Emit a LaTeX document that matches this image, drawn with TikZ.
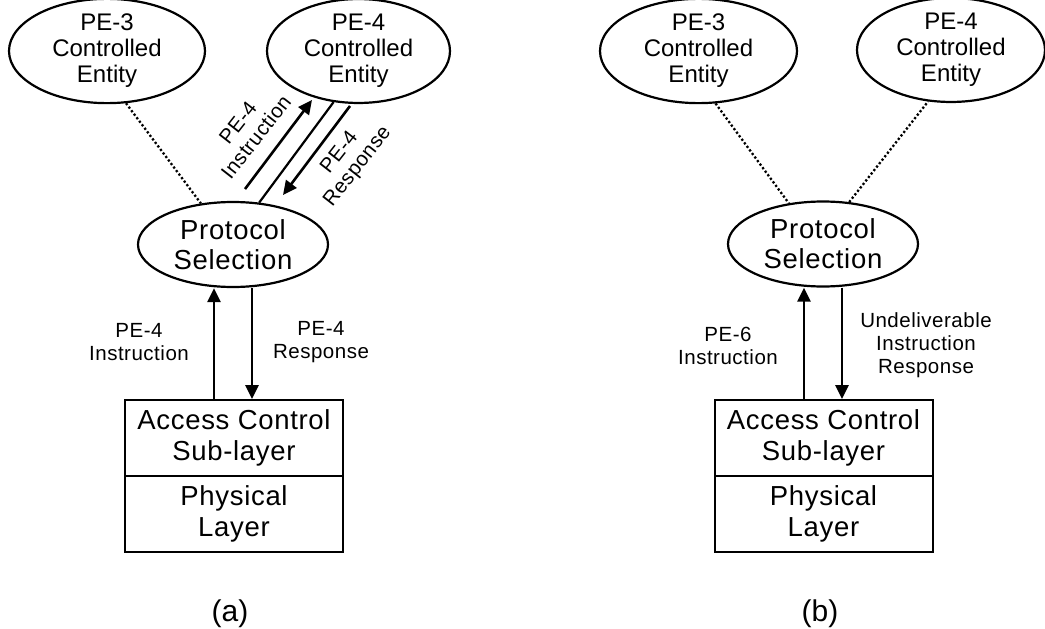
\documentclass[tikz,border=0pt]{standalone}
\usepackage{fontspec}
\setmainfont{Liberation Sans}
\newfontfamily\trkfont{Liberation Sans}[LetterSpace=2.5]
\usetikzlibrary{shapes.geometric,arrows.meta,calc}

\begin{document}
\begin{tikzpicture}[x=1pt,y=-1pt,
  ent/.style={ellipse, draw, line width=2.2pt, inner sep=0pt, minimum height=92pt,
              align=center, font=\fontsize{24}{26}\selectfont},
  sel/.style={ellipse, draw, line width=2.2pt, inner sep=0pt, minimum width=190pt,
              minimum height=85pt, align=center, font=\trkfont\fontsize{27.5}{30}\selectfont},
  layer/.style={rectangle, draw, line width=2pt, minimum width=218pt, minimum height=76pt,
              inner sep=0pt, align=center, font=\trkfont\fontsize{27.5}{31}\selectfont},
  lbl/.style={align=center, inner sep=0pt, font=\trkfont\fontsize{20.5}{23}\selectfont},
  arr/.style={line width=2.6pt, -{Triangle[length=14pt,width=13pt]}},
  link/.style={line width=2.2pt},
  dots/.style={line width=2.3pt, dash pattern=on 2.2pt off 2.2pt},
  caption/.style={inner sep=0pt, font=\fontsize{30}{34}\selectfont}
]
\useasboundingbox (0,0) rectangle (1045,629);

% ---------- (a) ----------
\node[ent, minimum width=196pt] (pe3a) at (107,51) {PE-3\\Controlled\\Entity};
\node[ent, minimum width=183pt] (pe4a) at (358.5,51) {PE-4\\Controlled\\Entity};
\node[sel] (psa) at (233,244.5) {Protocol\\Selection};
\node[layer] (acla) at (234,438) {Access Control\\Sub-layer};
\node[layer] (phya) at (234,514) {Physical\\Layer};

\draw[dots] (pe3a.290) -- (psa.128);
\draw[link] (psa.58) -- (pe4a.244);

\coordinate (i1) at (245,189);
\coordinate (i2) at (312,100);
\coordinate (r1) at (350,106);
\coordinate (r2) at (283,195);
\draw[arr] (i1) -- (i2);
\draw[arr] (r1) -- (r2);
\node[lbl, rotate=52] (ila) at (247,130) {PE-4\\Instruction};
\node[lbl, rotate=52] (rla) at (349,160) {PE-4\\Response};

\draw[arr] ([xshift=-20pt]acla.north) -- ([xshift=-20pt]acla.north |- psa.south);
\draw[arr] ([xshift=18pt]acla.north |- psa.south) -- ([xshift=18pt]acla.north);
\node[lbl] (ia) at (139,342) {PE-4\\Instruction};
\node[lbl] (ra) at (321,342) {PE-4\\Response};

\node[caption] (capa) at (230,614) {(a)};

% ---------- (b) ----------
\node[ent, minimum width=197pt] (pe3b) at (698.5,51) {PE-3\\Controlled\\Entity};
\node[ent, minimum width=188pt, minimum height=90pt] (pe4b) at (951,50) {PE-4\\Controlled\\Entity};
\node[sel] (psb) at (823,244) {Protocol\\Selection};
\node[layer] (aclb) at (823.5,438) {Access Control\\Sub-layer};
\node[layer] (phyb) at (823.5,514) {Physical\\Layer};

\draw[dots] (pe3b.288) -- (psb.130);
\draw[dots] (psb.58) -- (pe4b.246);

\draw[arr] ([xshift=-19.5pt]aclb.north) -- ([xshift=-19.5pt]aclb.north |- psb.south);
\draw[arr] ([xshift=18.5pt]aclb.north |- psb.south) -- ([xshift=18.5pt]aclb.north);
\node[lbl] (ib) at (728,346) {PE-6\\Instruction};
\node[lbl] (ub) at (926,345) {Undeliverable\\Instruction\\Response};

\node[caption] (capb) at (820,614) {(b)};
\end{tikzpicture}
\end{document}
